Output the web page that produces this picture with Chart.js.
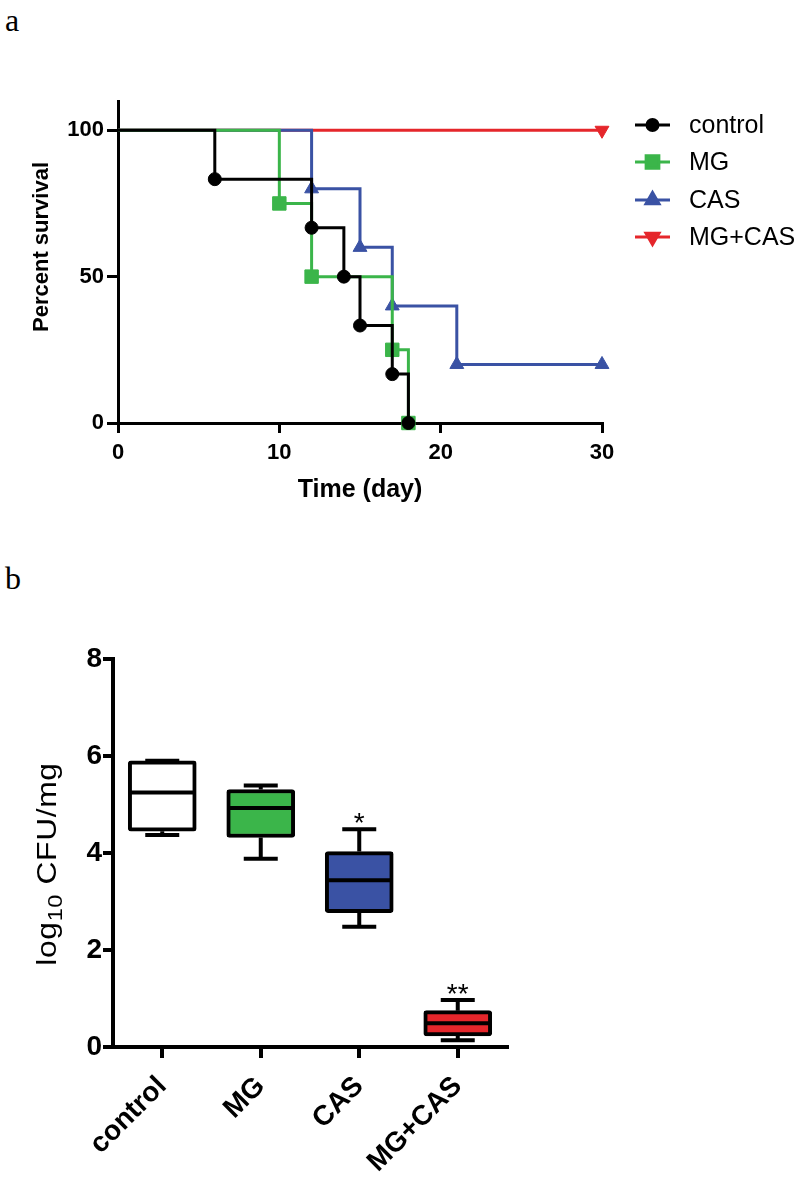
<!DOCTYPE html>
<html><head><meta charset="utf-8">
<script src="https://cdn.jsdelivr.net/npm/chart.js@4.4.0/dist/chart.umd.min.js"></script>
<style>
html,body{margin:0;padding:0;background:#fff;width:800px;height:1178px;overflow:hidden;}
.lbl{position:absolute;font-family:"Liberation Serif","DejaVu Serif",serif;font-size:32px;color:#000;line-height:1;}
#wa{position:absolute;left:0;top:0;width:800px;height:505px;}
#wb{position:absolute;left:0;top:600px;width:800px;height:578px;}
</style></head><body>
<div class="lbl" style="left:5px;top:4px">a</div>
<div class="lbl" style="left:5px;top:562px">b</div>
<div id="wa"><canvas id="ca"></canvas></div>
<div id="wb"><canvas id="cb"></canvas></div>
<script>
// ---- Panel a: survival data ----
const survivalGroups = ['control', 'MG', 'CAS', 'MG+CAS'];
const controlDays = [0, 6, 12, 14, 15, 17, 18];
const controlSurv = [100, 83.3, 66.7, 50, 33.3, 16.7, 0];
const mgDays = [0, 10, 12, 17, 18];
const mgSurv = [100, 75, 50, 25, 0];
const casDays = [0, 12, 15, 17, 21, 30];
const casSurv = [100, 80, 60, 40, 20, 20];
const mgcasDays = [0, 30];
const mgcasSurv = [100, 100];
const timeTicks = [0, 10, 20, 30];
const survivalTicks = [0, 50, 100];

// ---- Panel b: CFU box plot data ----
const cfuGroups = ['control', 'MG', 'CAS', 'MG+CAS'];
const cfuMin = [4.37, 3.88, 2.48, 0.14];
const cfuQ1 = [4.45, 4.32, 2.77, 0.23];
const cfuMedian = [5.25, 4.93, 3.44, 0.49];
const cfuQ3 = [5.90, 5.31, 4.03, 0.75];
const cfuMax = [5.90, 5.39, 4.49, 0.97];
const cfuSignif = ['', '', '*', '**'];
const cfuTicks = [0, 2, 4, 6, 8];

const BLACK = '#000000', GREEN = '#3bb54a', BLUE = '#3a52a4', RED = '#e5262b';
const SANS = '"Liberation Sans", Arial, Helvetica, sans-serif';

function pts(xs, ys) { return xs.map((x, i) => ({x: x, y: ys[i]})); }
function radii(n, r) { return Array.from({length: n}, (_, i) => i === 0 ? 0 : r); }

function kmSet(label, xs, ys, color, style, r, legR, rot) {
  return {
    label: label, data: pts(xs, ys), borderColor: color, backgroundColor: color,
    borderWidth: 3, stepped: true, fill: false, clip: false,
    pointStyle: style, rotation: rot || 0, pointRadius: radii(xs.length, r), legendRadius: legR,
    pointBackgroundColor: color, pointBorderColor: color, pointBorderWidth: 1
  };
}

const kmSets = [
  kmSet(survivalGroups[0], controlDays, controlSurv, BLACK, 'circle', 6.5, 5.5),
  kmSet(survivalGroups[1], mgDays, mgSurv, GREEN, 'rect', 9.5, 9),
  kmSet(survivalGroups[2], casDays, casSurv, BLUE, 'triangle', 8, 7.5),
  kmSet(survivalGroups[3], mgcasDays, mgcasSurv, RED, 'triangle', 8, 7.5, 180)
];

function rotatedTitle(id, draw) {
  return {id: id, afterDraw(chart) { const ctx = chart.ctx; ctx.save(); draw(ctx); ctx.restore(); }};
}

const legendPlugin = {
  id: 'kmLegend',
  afterDraw(chart) {
    const ctx = chart.ctx;
    const rows = [125, 162, 200, 237];
    ctx.save();
    chart.data.datasets.forEach((ds, i) => {
      const y = rows[i];
      ctx.strokeStyle = ds.borderColor; ctx.fillStyle = ds.borderColor;
      ctx.lineWidth = 3;
      ctx.beginPath(); ctx.moveTo(635, y); ctx.lineTo(670, y); ctx.stroke();
      Chart.helpers.drawPoint(ctx, {pointStyle: ds.pointStyle, rotation: ds.rotation, radius: ds.legendRadius, borderWidth: 1}, 652.5, y);
      ctx.fillStyle = '#000';
      ctx.font = '25px ' + SANS;
      ctx.textBaseline = 'middle'; ctx.textAlign = 'left';
      ctx.fillText(ds.label, 689, y + 1);
    });
    ctx.restore();
  }
};

const survTitle = rotatedTitle('survTitle', ctx => {
  ctx.translate(42, 247); ctx.rotate(-Math.PI / 2);
  ctx.font = 'bold 22px ' + SANS; ctx.fillStyle = '#000';
  ctx.textAlign = 'center'; ctx.textBaseline = 'middle';
  ctx.fillText('Percent survival', 0, 0);
});

new Chart(document.getElementById('ca'), {
  type: 'line',
  data: {datasets: kmSets},
  plugins: [legendPlugin, survTitle],
  options: {
    responsive: true, maintainAspectRatio: false, animation: false,
    layout: {padding: {left: 0, right: 198, top: 101, bottom: 0}},
    plugins: {legend: {display: false}, tooltip: {enabled: false}},
    scales: {
      x: {
        type: 'linear', min: 0, max: 30,
        afterBuildTicks: s => { s.ticks = timeTicks.map(v => ({value: v})); },
        afterFit: s => { s.height = 82; },
        grid: {drawOnChartArea: false, drawTicks: true, tickLength: 10, color: BLACK, lineWidth: 3},
        border: {color: BLACK, width: 3},
        ticks: {color: BLACK, padding: 7, maxRotation: 0, font: {family: SANS, size: 22, weight: 'bold'}},
        title: {display: true, text: 'Time (day)', color: BLACK, padding: {top: 0, bottom: 0},
                font: {family: SANS, size: 25, weight: 'bold'}}
      },
      y: {
        type: 'linear', min: 0, max: 110,
        afterBuildTicks: s => { s.ticks = survivalTicks.map(v => ({value: v})); },
        afterFit: s => { s.width = 118; },
        grid: {drawOnChartArea: false, drawTicks: true, tickLength: 11, color: BLACK, lineWidth: 3},
        border: {color: BLACK, width: 3},
        ticks: {color: BLACK, padding: 3, font: {family: SANS, size: 22, weight: 'bold'}}
      }
    }
  }
});

// ---- Panel b ----
const boxPlugin = {
  id: 'boxParts',
  beforeDatasetsDraw(chart) {
    const ctx = chart.ctx, ys = chart.scales.y;
    const meta = chart.getDatasetMeta(0);
    ctx.save();
    ctx.strokeStyle = BLACK; ctx.lineWidth = 4; ctx.lineCap = 'butt';
    meta.data.forEach((bar, i) => {
      const x = bar.x, w = bar.width, cap = w / 2;
      const yq1 = ys.getPixelForValue(cfuQ1[i]), yq3 = ys.getPixelForValue(cfuQ3[i]);
      const ymin = ys.getPixelForValue(cfuMin[i]), ymax = ys.getPixelForValue(cfuMax[i]);
      ctx.beginPath();
      ctx.moveTo(x, yq3); ctx.lineTo(x, ymax);
      ctx.moveTo(x, yq1); ctx.lineTo(x, ymin);
      ctx.moveTo(x - cap / 2, ymax); ctx.lineTo(x + cap / 2, ymax);
      ctx.moveTo(x - cap / 2, ymin); ctx.lineTo(x + cap / 2, ymin);
      ctx.stroke();
    });
    ctx.restore();
  },
  afterDatasetsDraw(chart) {
    const ctx = chart.ctx, ys = chart.scales.y;
    const meta = chart.getDatasetMeta(0);
    ctx.save();
    ctx.strokeStyle = BLACK; ctx.lineWidth = 4;
    meta.data.forEach((bar, i) => {
      const x = bar.x, w = bar.width;
      const ym = ys.getPixelForValue(cfuMedian[i]);
      ctx.beginPath(); ctx.moveTo(x - w / 2 + 2, ym); ctx.lineTo(x + w / 2 - 2, ym); ctx.stroke();
      if (cfuSignif[i]) {
        ctx.fillStyle = BLACK;
        ctx.font = '28px ' + SANS;
        ctx.textAlign = 'center'; ctx.textBaseline = 'alphabetic';
        ctx.fillText(cfuSignif[i], x, ys.getPixelForValue(cfuMax[i]) + 3);
      }
    });
    ctx.restore();
  }
};

const cfuTitle = rotatedTitle('cfuTitle', ctx => {
  ctx.translate(47, 264); ctx.rotate(-Math.PI / 2); ctx.scale(1.18, 1);
  ctx.fillStyle = '#000'; ctx.textBaseline = 'alphabetic'; ctx.textAlign = 'left';
  const big = '27px ' + SANS, small = '20px ' + SANS;
  ctx.letterSpacing = '0.5px';
  const parts = [['log', big, 0], ['10', small, 6], [' CFU/mg', big, 0]];
  let total = 0;
  parts.forEach(p => { ctx.font = p[1]; total += ctx.measureText(p[0]).width; });
  let x = -total / 2;
  const base = 9;
  parts.forEach(p => { ctx.font = p[1]; ctx.fillText(p[0], x, base + p[2]); x += ctx.measureText(p[0]).width; });
});

new Chart(document.getElementById('cb'), {
  type: 'bar',
  data: {
    labels: cfuGroups,
    datasets: [{
      label: 'log10 CFU/mg',
      data: cfuQ1.map((q, i) => [q, cfuQ3[i]]),
      backgroundColor: ['#ffffff', GREEN, BLUE, RED],
      borderColor: BLACK, borderWidth: 4, borderSkipped: false, borderRadius: 3,
      barThickness: 68
    }]
  },
  plugins: [boxPlugin, cfuTitle],
  options: {
    responsive: true, maintainAspectRatio: false, animation: false,
    layout: {padding: {left: 0, right: 293, top: 59, bottom: 0}},
    plugins: {legend: {display: false}, tooltip: {enabled: false}},
    scales: {
      x: {
        afterFit: s => { s.height = 131; },
        grid: {offset: false, drawOnChartArea: false, drawTicks: true, tickLength: 11, color: BLACK, lineWidth: 4},
        border: {color: BLACK, width: 4},
        ticks: {color: BLACK, padding: 12, minRotation: 45, maxRotation: 45, font: {family: SANS, size: 28, weight: 'bold'}}
      },
      y: {
        type: 'linear', min: 0, max: 8,
        afterBuildTicks: s => { s.ticks = cfuTicks.map(v => ({value: v})); },
        afterFit: s => { s.width = 113; },
        grid: {drawOnChartArea: false, drawTicks: true, tickLength: 10, color: BLACK, lineWidth: 4},
        border: {color: BLACK, width: 4},
        ticks: {color: BLACK, padding: 1, font: {family: SANS, size: 28, weight: 'bold'}}
      }
    }
  }
});
</script>
</body></html>
